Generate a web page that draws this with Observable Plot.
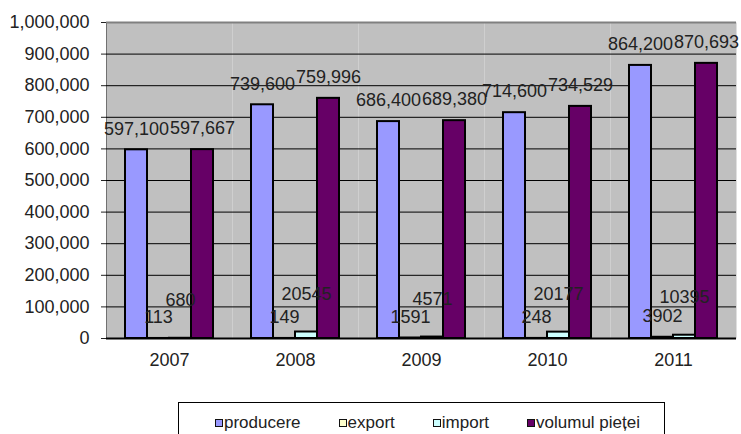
<!DOCTYPE html>
<html>
<head>
<meta charset="utf-8">
<script src="https://cdn.jsdelivr.net/npm/d3@7"></script>
<script src="https://cdn.jsdelivr.net/npm/@observablehq/plot@0.6"></script>
<style>
  body { margin: 0; background: #fff; font-family: "Liberation Sans", Arial, sans-serif; }
  #wrap { position: relative; width: 741px; height: 434px; overflow: hidden; }
  #legend { position: absolute; left: 178px; top: 402px; width: 487px; height: 40px;
            border: 1px solid #000; box-sizing: border-box; display: flex; gap: 38px;
            padding-left: 36px; padding-top: 10px; font-size: 17px; color: #222; }
  .item { display: flex; align-items: center; height: 19px; }
  .sw { width: 6px; height: 6px; border: 1px solid #111; margin-right: 1px; }
</style>
</head>
<body>
<div id="wrap"><div id="chart"></div><div id="legend"></div></div>
<script>
const years = ["2007", "2008", "2009", "2010", "2011"];
const series = ["producere", "export", "import", "volumul pieței"];
const producere = [597100, 739600, 686400, 714600, 864200];
const exportVals = [113, 149, 1591, 248, 3902];
const importVals = [680, 20545, 4571, 20177, 10395];
const volumul = [597667, 759996, 689380, 734529, 870693];
const yTicks = [0, 100000, 200000, 300000, 400000, 500000, 600000, 700000, 800000, 900000, 1000000];
const colors = ["#9999ff", "#ffffcc", "#ccffff", "#660066"];

const valuesBySeries = [producere, exportVals, importVals, volumul];
const data = [];
series.forEach((s, i) => years.forEach((y, j) => data.push({year: y, series: s, value: valuesBySeries[i][j]})));

const big = data.filter(d => d.series === "producere" || d.series === "volumul pieței");
const exp = data.filter(d => d.series === "export");
const imp = data.filter(d => d.series === "import");
const fmt = d3.format(",");

const chart = Plot.plot({
  width: 741,
  height: 395,
  marginLeft: 105,
  marginRight: 5,
  marginTop: 22,
  marginBottom: 57,
  style: {fontFamily: "'Liberation Sans', Arial, sans-serif", fontSize: "18px", color: "#222", background: "transparent"},
  fx: {domain: years, padding: 0, label: null, axis: "bottom", tickSize: 0, tickPadding: 15},
  x: {domain: series, paddingInner: 0, paddingOuter: 0.75, axis: null},
  y: {domain: [0, 1000000], ticks: yTicks, tickFormat: fmt, tickSize: 5, tickPadding: 12, label: null, line: true},
  color: {domain: series, range: colors},
  marks: [
    Plot.frame({fill: "#c0c0c0", stroke: null}),
    Plot.ruleY(yTicks.slice(1, -1), {stroke: "#000", strokeWidth: 1}),
    Plot.ruleY(yTicks.slice(-1), {stroke: "#808080", strokeWidth: 2}),
    Plot.barY(data, {fx: "year", x: "series", y: "value", fill: "series", stroke: "#000", strokeWidth: 2}),
    Plot.ruleY([0], {stroke: "#000", strokeWidth: 2}),
    Plot.text(big, {fx: "year", x: "series", y: "value", text: d => fmt(d.value), dy: -21, fill: "#222", fontSize: 18}),
    Plot.text(exp, {fx: "year", x: "series", y: "value", text: d => String(d.value), dy: -21, fill: "#222", fontSize: 18}),
    Plot.text(imp, {fx: "year", x: "series", y: "value", text: d => String(d.value), dy: -38, fill: "#222", fontSize: 18})
  ]
});
document.getElementById("chart").appendChild(chart);

const legend = document.getElementById("legend");
series.forEach((s, i) => {
  const it = document.createElement("div");
  it.className = "item";
  const sw = document.createElement("span");
  sw.className = "sw";
  sw.style.background = colors[i];
  const t = document.createElement("span");
  t.textContent = s;
  it.appendChild(sw);
  it.appendChild(t);
  legend.appendChild(it);
});
</script>
</body>
</html>
